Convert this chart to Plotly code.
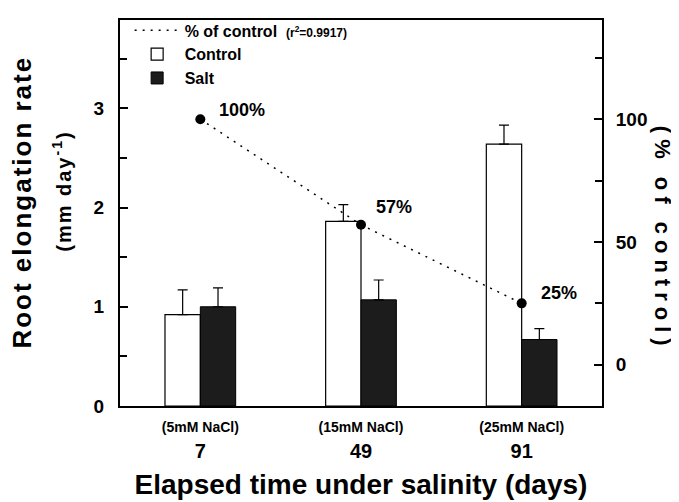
import plotly.graph_objects as go

days = ["7", "49", "91"]
salt_labels = ["(5mM NaCl)", "(15mM NaCl)", "(25mM NaCl)"]
control = [0.92, 1.86, 2.64]
control_err = [0.25, 0.17, 0.19]
salt = [1.0, 1.07, 0.67]
salt_err = [0.19, 0.20, 0.11]
pct = [100, 57, 25]
pct_text = ["100%", "57%", "25%"]

FONT = "Liberation Sans"

fig = go.Figure()
# dotted line (legend entry shows only the line)
fig.add_trace(go.Scatter(
    x=days, y=pct, yaxis="y2", mode="lines",
    name="% of control  <span style='font-size:12px'>(r<sup>2</sup>=0.9917)</span>",
    line=dict(color="black", width=1.5, dash="2px,6px"),
    legendrank=1,
))
fig.add_trace(go.Bar(
    x=days, y=control, name="Control",
    marker=dict(color="white", line=dict(color="black", width=1.2)),
    error_y=dict(type="data", array=control_err, arrayminus=[0, 0, 0], symmetric=False,
                 color="black", thickness=1.2, width=5),
    legendrank=2,
))
fig.add_trace(go.Bar(
    x=days, y=salt, name="Salt",
    marker=dict(color="#1c1c1c", line=dict(color="black", width=1)),
    error_y=dict(type="data", array=salt_err, arrayminus=[0, 0, 0], symmetric=False,
                 color="black", thickness=1.2, width=5),
    legendrank=3,
))
# points of the % of control series
fig.add_trace(go.Scatter(
    x=days, y=pct, yaxis="y2", mode="markers", showlegend=False,
    marker=dict(color="black", size=10), cliponaxis=False,
))

label_shift = [(17, 9), (13, 18), (17, 10)]
for i, (p, t) in enumerate(zip(pct, pct_text)):
    dx, dy = label_shift[i]
    fig.add_annotation(x=i, y=p, xref="x", yref="y2", text=f"<b>{t}</b>", showarrow=False,
                       xanchor="left", yanchor="middle", xshift=dx, yshift=dy,
                       font=dict(family=FONT, size=18, color="black"))

ticktext = [f"<span style='font-size:14px'>{s}</span><br>{d}" for s, d in zip(salt_labels, days)]

fig.update_layout(
    width=671, height=494,
    margin=dict(l=112, r=77, t=5, b=96),
    paper_bgcolor="white", plot_bgcolor="white",
    barmode="group", bargap=0.56, bargroupgap=0,
    font=dict(family=FONT, color="black"),
    showlegend=True,
    legend=dict(x=0.02, y=1.017, xanchor="left", yanchor="top",
                bgcolor="rgba(0,0,0,0)", font=dict(family=FONT, size=16, color="black", weight="bold"),
                tracegroupgap=0, itemwidth=45, traceorder="normal"),
    xaxis=dict(
        type="category", categoryorder="array", categoryarray=days,
        tickmode="array", tickvals=days, ticktext=ticktext,
        ticks="", showline=True, linecolor="black", linewidth=2, mirror=True,
        tickfont=dict(family=FONT, size=20, color="black", weight="bold"),
        title=dict(text="<b>Elapsed time under salinity (days)</b>",
                   font=dict(family=FONT, size=28, color="black"), standoff=13),
    ),
    yaxis=dict(
        range=[0, 3.89], tickvals=[0, 1, 2, 3], ticks="inside", ticklen=8, tickwidth=1.5,
        minor=dict(tickvals=[0.5, 1.5, 2.5, 3.5], ticks="inside", ticklen=7, tickwidth=1.5, tickcolor="black"),
        showline=True, linecolor="black", linewidth=2, showgrid=False, zeroline=False,
        tickcolor="black", ticklabelstandoff=10,
        tickfont=dict(family=FONT, size=19, color="black", weight="bold"),
    ),
    yaxis2=dict(
        overlaying="y", side="right", range=[-16.8, 140.4],
        tickvals=[0, 50, 100], ticks="inside", ticklen=8, tickwidth=1.5, tickcolor="black",
        minor=dict(tickvals=[25, 75, 125], ticks="inside", ticklen=7, tickwidth=1.5, tickcolor="black"),
        showline=True, linecolor="black", linewidth=2, showgrid=False, zeroline=False,
        ticklabelstandoff=8,
        tickfont=dict(family=FONT, size=19, color="black", weight="bold"),
    ),
)

# Left axis title (two lines) and right axis title
fig.add_annotation(xref="paper", yref="paper", x=0, y=0.527, xshift=-98,
                   text="<b><span style='letter-spacing:2px'>Root elongation rate</span></b>",
                   textangle=-90, showarrow=False, xanchor="center", yanchor="middle",
                   font=dict(family=FONT, size=26, color="black"))
fig.add_annotation(xref="paper", yref="paper", x=0, y=0.555, xshift=-58,
                   text="<b><span style='letter-spacing:2px'>(mm day<sup>-1</sup>)</span></b>",
                   textangle=-90, showarrow=False, xanchor="center", yanchor="middle",
                   font=dict(family=FONT, size=20, color="black"))
fig.add_annotation(xref="paper", yref="paper", x=1, y=0.433, xshift=60,
                   text="<b><span style='letter-spacing:6px'>(% of control)</span></b>",
                   textangle=90, showarrow=False, xanchor="center", yanchor="middle",
                   font=dict(family=FONT, size=22, color="black"))

fig.write_html("out.html")
